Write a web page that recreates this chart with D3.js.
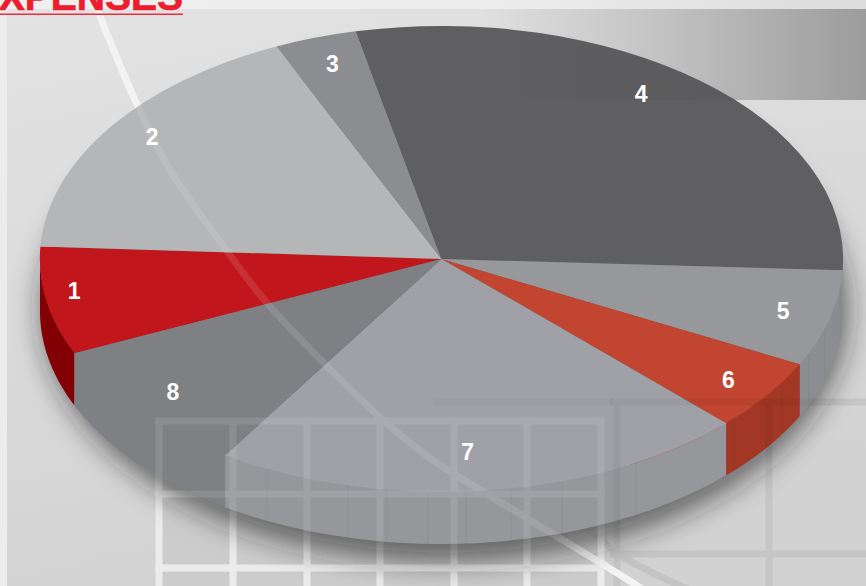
<!DOCTYPE html>
<html>
<head>
<meta charset="utf-8">
<script src="https://cdn.jsdelivr.net/npm/d3@7"></script>
<style>
  html, body { margin: 0; padding: 0; background: #eee; }
  svg { display: block; }
  text { font-family: "Liberation Sans", Arial, sans-serif; font-weight: bold; }
</style>
</head>
<body>
<div id="chart"></div>
<script>
// values, in percent of the pie
var categories = ["1", "2", "3", "4", "5", "6", "7", "8"]
var values = [7.5, 17.4, 3.3, 29.2, 6.7, 5.0, 21.6, 9.3]
var topColors = ["#c1161c", "#b5b6b8", "#8c8d90", "#5f5f61", "#97989c", "#c14530", "#a0a1a6", "#7f8083"]
var wallColors = ["#820003", "#b5b6b8", "#8c8d90", "#5f5f61", "#8c8d91", "#a33725", "#96979b", "#7f8083"]
var titleText = "EXPENSES"

// where the number sits in each slice (degrees clockwise from top, share of radius)
var labelAngles = [261.5, 306, 342, 35.1, 104.7, 126, 175.5, 229.5]
var labelRadii = [0.925, 0.891, 0.88, 0.865, 0.88, 0.883, 0.83, 0.88]

var width = 866,
    height = 586,
    cx = 441.5,
    cy = 259,
    rx = 401.5,
    ry = 233,
    depth = 52,
    startDeg = 246.1

var svg = d3.select("#chart").append("svg")
  .attr("width", width)
  .attr("height", height)

var defs = svg.append("defs")

function gradient(id, stops, x2, y2) {
  var g = defs.append("linearGradient").attr("id", id)
    .attr("x1", 0).attr("y1", 0).attr("x2", x2).attr("y2", y2)
  stops.forEach(s => g.append("stop").attr("offset", s[0]).attr("stop-color", s[1]).attr("stop-opacity", s[2] === undefined ? 1 : s[2]))
}
gradient("bg", [[0, "#e3e3e3"], [1, "#d2d2d2"]], 0.3, 1)
gradient("band", [[0, "#e0e0e0"], [0.45, "#c4c4c4"], [1, "#9c9c9c"]], 1, 0)
gradient("bandThrough", [[0, "#000", 0], [0.6, "#000", 0.04]], 1, 0)
gradient("strip", [[0, "#efefef"], [0.6, "#ececec"], [1, "#dcdcdc"]], 1, 0)

defs.append("filter").attr("id", "blur")
  .attr("x", "-10%").attr("y", "-10%").attr("width", "120%").attr("height", "120%")
  .append("feGaussianBlur").attr("stdDeviation", 14)

var clip = defs.append("clipPath").attr("id", "pieClip")
clip.append("ellipse").attr("cx", cx).attr("cy", cy).attr("rx", rx).attr("ry", ry)
clip.append("ellipse").attr("cx", cx).attr("cy", cy + depth).attr("rx", rx).attr("ry", ry)
clip.append("rect").attr("x", cx - rx).attr("y", cy).attr("width", rx * 2).attr("height", depth)

// --- backdrop -----------------------------------------
var whiteX = [159, 233, 307, 380, 454, 527, 601],
    whiteY = [421, 494, 568],
    greyX = [617, 769],
    greyY = [402, 554]

var curveLine = d3.line().curve(d3.curveCatmullRom)
var curvePts = [[97, 9], [135, 100], [170, 170], [230, 255], [267, 303], [383, 420], [433, 460], [530, 520], [633, 583], [665, 605]]
var curveShadowPts = [[560, 502], [620, 555], [690, 590]]

function greyGrid(g, color) {
  g.selectAll(".gv").data(greyX).enter().append("rect").attr("class", "gv")
    .attr("x", d => d - 3.5).attr("y", 402).attr("width", 7).attr("height", height - 402).attr("fill", color)
  g.selectAll(".gh").data(greyY).enter().append("rect").attr("class", "gh")
    .attr("x", 610).attr("y", d => d - 3.5).attr("width", width).attr("height", 7).attr("fill", color)
}

function whiteGrid(g) {
  g.selectAll(".wv").data(whiteX).enter().append("rect").attr("class", "wv")
    .attr("x", d => d - 3.5).attr("y", 417.5).attr("width", 7).attr("height", height - 417).attr("fill", "#ebebeb")
  g.selectAll(".wh").data(whiteY).enter().append("rect").attr("class", "wh")
    .attr("x", 155.5).attr("y", d => d - 3.5).attr("width", 449).attr("height", 7).attr("fill", "#ebebeb")
}

function whiteCurve(g) {
  g.append("path").attr("d", curveLine(curvePts))
    .attr("fill", "none").attr("stroke", "#f3f3f3").attr("stroke-width", 7)
}

svg.append("rect").attr("width", width).attr("height", height).attr("fill", "#ececec")
svg.append("rect").attr("width", width).attr("height", 9).attr("fill", "url(#strip)")
svg.append("rect").attr("x", 7).attr("y", 9).attr("width", width - 7).attr("height", height - 9).attr("fill", "url(#bg)")
svg.append("rect").attr("x", 480).attr("y", 9).attr("width", width - 480).attr("height", 91).attr("fill", "url(#band)")
svg.append("rect").attr("x", 159).attr("y", 421).attr("width", 442).attr("height", height - 421).attr("fill", "#cccccc")
svg.append("rect").attr("x", 100).attr("y", 551).attr("width", 56).attr("height", 7).attr("fill", "#d3d3d3")

var back = svg.append("g")
greyGrid(back, "#c6c6c6")
back.append("path").attr("d", curveLine(curveShadowPts))
  .attr("fill", "none").attr("stroke", "#c4c4c4").attr("stroke-width", 7)
whiteGrid(back)
whiteCurve(back)

// --- title, cut off by the top edge --------------------
var titleEnd = 183
svg.append("text")
  .attr("x", titleEnd).attr("y", 10)
  .attr("text-anchor", "end")
  .attr("font-size", 39)
  .attr("fill", "#ed1c2e")
  .attr("stroke", "#ed1c2e")
  .attr("stroke-width", 0.7)
  .text(titleText)
svg.append("rect").attr("x", 0).attr("y", 13.5).attr("width", titleEnd).attr("height", 1.5).attr("fill", "#ee2b3b")

// --- pie -----------------------------------------------
svg.append("ellipse")
  .attr("cx", cx + 3).attr("cy", cy + 50).attr("rx", rx + 2).attr("ry", ry + 20)
  .attr("fill", "#222").attr("fill-opacity", 0.6)
  .attr("filter", "url(#blur)")

var rad = Math.PI / 180

var pie = d3.pie().sort(null)
  .startAngle(startDeg * rad)
  .endAngle((startDeg + 360) * rad)

var arcs = pie(values)

function rimX(a) { return cx + rx * Math.sin(a) }
function rimY(a) { return cy - ry * Math.cos(a) }

// side wall only where the rim faces the viewer
function wallPath(d) {
  var full = 2 * Math.PI,
      a0 = d.startAngle,
      a1 = d.endAngle
  // bring the slice into the turn where the front half is 90..270 deg
  if (a0 >= full) { a0 -= full; a1 -= full }
  var s = Math.max(a0, 90 * rad),
      e = Math.min(a1, 270 * rad)
  if (e <= s) return null
  var steps = d3.range(0, 61).map(t => s + (e - s) * t / 60)
  // top edge runs a little under the face so no shadow leaks along the rim
  var top = steps.map(a => [rimX(a), rimY(a) - 2])
  var bot = steps.slice().reverse().map(a => [rimX(a), rimY(a) + depth])
  return d3.line()(top.concat(bot)) + "Z"
}

svg.append("g").selectAll("path")
  .data(arcs)
  .enter().append("path")
    .attr("d", wallPath)
    .attr("fill", (d, i) => wallColors[i])

// vertical seams along the side wall
var seamX = [267, 348, 387, 428, 466, 511, 562, 636, 734, 782, 809, 825, 840]
svg.append("g").selectAll("line")
  .data(seamX)
  .enter().append("line")
    .attr("x1", d => d).attr("x2", d => d)
    .attr("y1", d => cy + ry * Math.sqrt(1 - Math.pow((d - cx) / rx, 2)))
    .attr("y2", d => cy + depth + ry * Math.sqrt(1 - Math.pow((d - cx) / rx, 2)))
    .attr("stroke", "#000").attr("stroke-opacity", 0.05)

var arc = d3.arc().innerRadius(0).outerRadius(1)

svg.append("g")
  .attr("transform", `translate(${cx},${cy}) scale(${rx},${ry})`)
  .selectAll("path")
  .data(arcs)
  .enter().append("path")
    .attr("d", arc)
    .attr("fill", (d, i) => topColors[i])

// thin reddish traces left on the rim next to the red slices
var rimTraces = [[136, 152], [246.1, 258]]
svg.append("g").selectAll("path")
  .data(rimTraces)
  .enter().append("path")
    .attr("d", t => d3.line()(d3.range(0, 21).map(k => {
      var a = (t[0] + (t[1] - t[0]) * k / 20) * rad
      return [rimX(a), rimY(a)]
    })))
    .attr("fill", "none")
    .attr("stroke", "#b5453a").attr("stroke-width", 0.6).attr("stroke-opacity", 0.4)

// backdrop shows faintly through the pie
var through = svg.append("g").attr("clip-path", "url(#pieClip)")
through.append("rect").attr("x", 480).attr("y", 9).attr("width", width - 480).attr("height", 91)
  .attr("fill", "url(#bandThrough)")
var throughGrey = through.append("g").attr("opacity", 0.04)
greyGrid(throughGrey, "#000")
through.append("rect").attr("x", 433).attr("y", 398.5).attr("width", 180).attr("height", 7)
  .attr("fill", "#000").attr("fill-opacity", 0.025)
var throughWhite = through.append("g").attr("opacity", 0.12)
whiteGrid(throughWhite)
whiteCurve(throughWhite)

// --- numbers -------------------------------------------
svg.append("g").selectAll("text")
  .data(categories)
  .enter().append("text")
    .attr("x", (d, i) => cx + rx * labelRadii[i] * Math.sin(labelAngles[i] * rad))
    .attr("y", (d, i) => cy - ry * labelRadii[i] * Math.cos(labelAngles[i] * rad))
    .attr("dy", "0.36em")
    .attr("text-anchor", "middle")
    .attr("font-size", 23)
    .attr("fill", "#fff")
    .text(d => d)
</script>
</body>
</html>
